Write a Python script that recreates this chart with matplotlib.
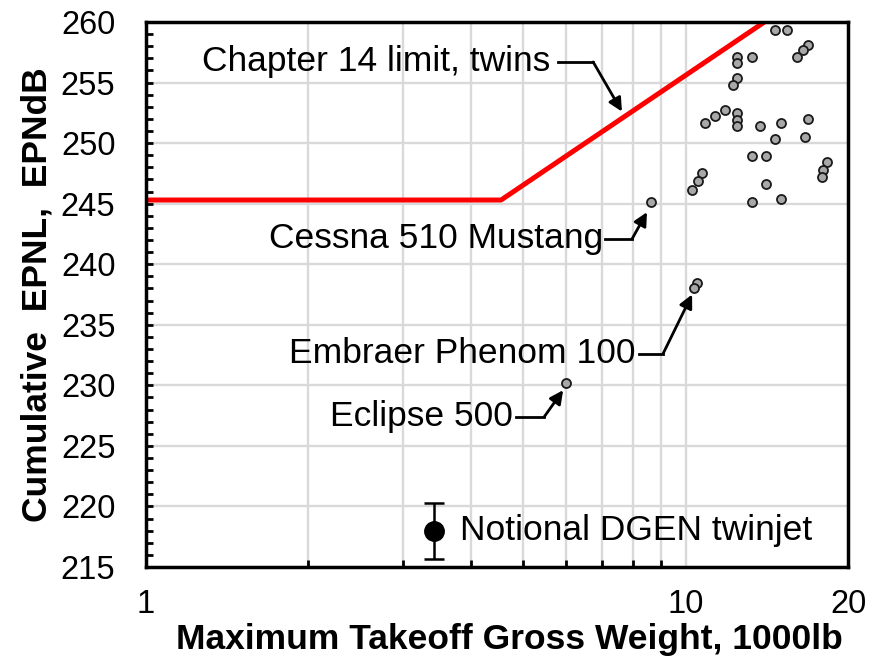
import matplotlib
matplotlib.use("Agg")
import matplotlib.pyplot as plt
from matplotlib.ticker import FixedLocator, NullFormatter

plt.rcParams['font.family'] = ['Liberation Sans', 'DejaVu Sans']

# business jets, MTOW (1000 lb) and cumulative EPNL (EPNdB)
mtow = [14.65, 15.42, 16.86, 16.51, 16.09, 12.45, 12.45, 13.28, 12.45, 12.24,
        10.86, 11.34, 11.83, 12.45, 12.45, 12.45, 13.74, 15.02, 16.86, 14.65,
        16.65, 13.28, 14.09, 10.72, 10.54, 10.28, 18.28, 17.98, 17.89, 14.09,
        13.28, 15.02, 8.63, 10.49, 10.36, 6.0]
epnl = [259.3, 259.3, 258.1, 257.7, 257.1, 257.1, 256.6, 257.1, 255.4, 254.8,
        251.7, 252.2, 252.7, 252.5, 251.9, 251.4, 251.4, 251.7, 252.0, 250.3,
        250.5, 248.9, 248.9, 247.5, 246.9, 246.1, 248.4, 247.8, 247.2, 246.6,
        245.1, 245.4, 245.1, 238.45, 238.0, 230.2]

# chapter 14 limit for twins
limit_x = [1.0, 4.55, 14.0]
limit_y = [245.3, 245.3, 260.0]

# notional DGEN twinjet with uncertainty
dgen_x = [3.42]
dgen_y = [218.0]
dgen_err = [2.3]

x_ticks = [1, 10, 20]
x_minor = [2, 3, 4, 5, 6, 7, 8, 9]

fig = plt.figure(figsize=(8.81, 6.6), dpi=100)
ax = fig.add_axes([0.1657, 0.1409, 0.7969, 0.8258])

ax.set_xscale('log')
ax.set_xlim(1, 20)
ax.set_ylim(215, 260)

# grid
for gx in x_minor + [10]:
    ax.axvline(gx, color='#d9d9d9', lw=1.7, zorder=0)
for gy in range(220, 260, 5):
    ax.axhline(gy, color='#d9d9d9', lw=1.7, zorder=0)

ax.plot(limit_x, limit_y, color='#ff0000', lw=3.6, zorder=3, clip_on=True)

ax.plot(mtow, epnl, 'o', ms=6.5, mfc='#a8a8a8', mec='#1a1a1a', mew=1.3,
        linestyle='none', zorder=4)

ax.errorbar(dgen_x, dgen_y, yerr=dgen_err, fmt='o', ms=14, color='black',
            ecolor='black', elinewidth=1.8, capsize=7, capthick=1.8, zorder=5)

# annotations: text, end of leader line, elbow, arrow tip
notes = [
    ("Chapter 14 limit, twins", (5.61, 256.7), (5.80, 256.7), (6.74, 256.7), (7.62, 252.6)),
    ("Cessna 510 Mustang", (7.03, 242.1), (7.10, 242.1), (7.96, 242.1), (8.48, 244.3)),
    ("Embraer Phenom 100", (8.06, 232.6), (8.20, 232.6), (9.08, 232.6), (10.28, 237.5)),
    ("Eclipse 500", (4.79, 227.4), (4.85, 227.4), (5.47, 227.4), (5.93, 229.6)),
]
for label, tpos, start, elbow, tip in notes:
    ax.text(tpos[0], tpos[1], label, ha='right', va='center', fontsize=25.5, zorder=6)
    ax.plot([start[0], elbow[0]], [start[1], elbow[1]], color='black', lw=2, zorder=6)
    ax.annotate('', xy=tip, xytext=elbow,
                arrowprops=dict(arrowstyle='-|>', color='black', lw=2,
                                mutation_scale=20, shrinkA=0, shrinkB=0),
                zorder=6)

ax.text(3.82, 218.0, "Notional DGEN twinjet", ha='left', va='center', fontsize=25.5, zorder=6)

# ticks
ax.xaxis.set_major_locator(FixedLocator(x_ticks))
ax.xaxis.set_minor_locator(FixedLocator(x_minor))
ax.xaxis.set_minor_formatter(NullFormatter())
ax.set_xticklabels([str(t) for t in x_ticks])
ax.set_yticks(range(215, 261, 5))
ax.yaxis.set_minor_locator(FixedLocator(range(215, 261)))

ax.tick_params(axis='both', which='both', direction='in', width=2, length=5,
               labelsize=23.5, top=False, right=False)
ax.tick_params(axis='x', which='major', pad=16, length=0)
ax.tick_params(axis='y', which='major', pad=22)

for s in ax.spines.values():
    s.set_linewidth(2.5)
    s.set_zorder(7)

ax.set_xlabel("Maximum Takeoff Gross Weight, 1000lb", fontsize=25.5,
              fontweight='bold', labelpad=2)
ax.xaxis.label.set_x(0.518)
ax.set_ylabel("Cumulative  EPNL,  EPNdB", fontsize=25.5, fontweight='bold',
              labelpad=5)

fig.savefig("out.png", dpi=100)
